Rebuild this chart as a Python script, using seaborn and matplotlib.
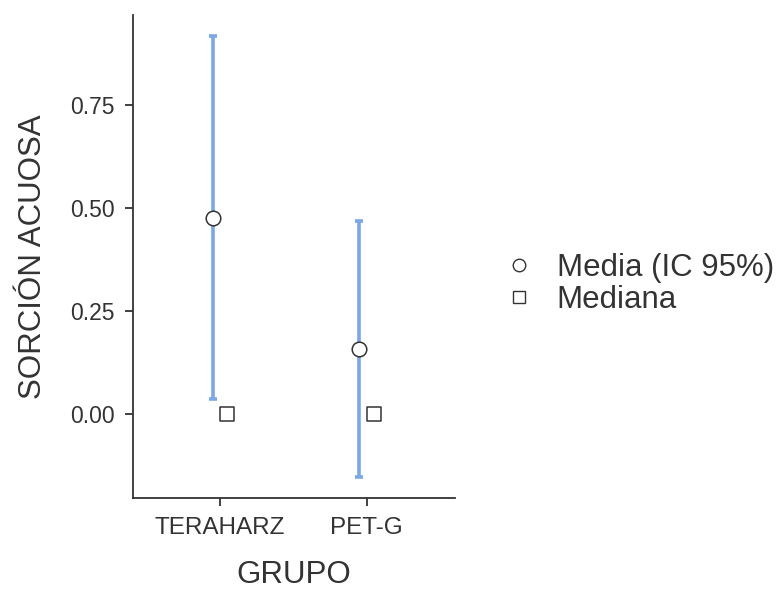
import matplotlib
matplotlib.use("Agg")
import matplotlib.pyplot as plt
import seaborn as sns
import pandas as pd
import numpy as np
from matplotlib.lines import Line2D

grupos = ["TERAHARZ", "PET-G"]
medias = [0.476, 0.158]
ic_inf = [0.036, -0.153]
ic_sup = [0.917, 0.468]
medianas = [0.0, 0.0]

sns.set_theme(style="ticks")
plt.rcParams['font.family'] = ['Liberation Sans', 'DejaVu Sans']

df = pd.DataFrame({"GRUPO": grupos, "media": medias, "lo": ic_inf,
                   "hi": ic_sup, "mediana": medianas})
df["pos"] = np.arange(len(grupos))

fig = plt.figure(figsize=(7.77, 5.9), dpi=100)
ax = fig.add_axes([0.171, 0.156, 0.415, 0.819])

blue = "#7ba7e6"
edge = "#333333"
off = 0.05
ax.errorbar(df["pos"] - off, df["media"],
            yerr=[df["media"] - df["lo"], df["hi"] - df["media"]],
            fmt="none", ecolor=blue, elinewidth=2.6, capsize=3.2, capthick=2.6, zorder=2)
sns.scatterplot(x=df["pos"] - off, y=df["media"], ax=ax, marker="o", s=110,
                facecolor="white", edgecolor=edge, linewidth=1.1, zorder=3, legend=False)
sns.scatterplot(x=df["pos"] + off, y=df["mediana"], ax=ax, marker="s", s=95,
                facecolor="white", edgecolor=edge, linewidth=1.1, zorder=3, legend=False)

ax.set_xlim(-0.595, 1.605)
ax.set_ylim(-0.204, 0.968)
ax.set_xticks(df["pos"])
ax.set_xticklabels(grupos)
ax.set_yticks([0.0, 0.25, 0.5, 0.75])
ax.set_yticklabels(["0.00", "0.25", "0.50", "0.75"])
ax.tick_params(axis="both", labelsize=16.5, colors="#333333", length=6, width=1.3,
               labelcolor="#333333")
ax.tick_params(axis="x", pad=8, labelsize=17.5)
ax.tick_params(axis="y", pad=7)
for s in ["top", "right"]:
    ax.spines[s].set_visible(False)
for s in ["left", "bottom"]:
    ax.spines[s].set_color("#333333")
    ax.spines[s].set_linewidth(1.3)
ax.set_xlabel("GRUPO", fontsize=22.5, color="#333333", labelpad=15)
ax.set_ylabel("SORCIÓN ACUOSA", fontsize=22.5, color="#333333", labelpad=16)

handles = [Line2D([], [], marker="o", linestyle="none", markerfacecolor="white",
                  markeredgecolor=edge, markersize=9, markeredgewidth=1.0),
           Line2D([], [], marker="s", linestyle="none", markerfacecolor="white",
                  markeredgecolor=edge, markersize=8.5, markeredgewidth=1.0)]
fig.legend(handles, ["Media (IC 95%)", "Mediana"], loc="center left",
           bbox_to_anchor=(0.614, 0.519), frameon=False, fontsize=22.5,
           handletextpad=0.75, labelspacing=0.05, handlelength=0.9,
           labelcolor="#333333")

fig.savefig("out.png", dpi=100)
